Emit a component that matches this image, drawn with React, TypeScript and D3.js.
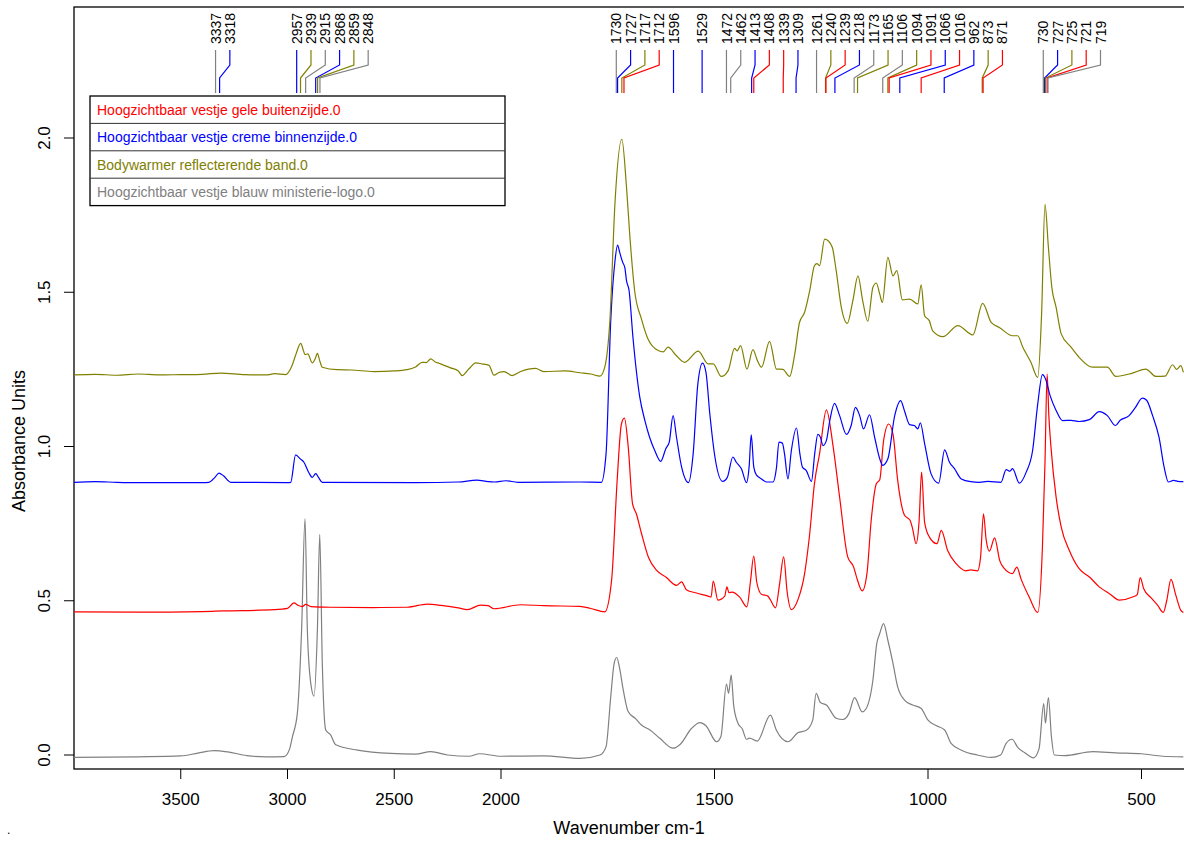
import React, { useRef, useEffect } from "react";
import * as d3 from "d3";

// spectra as [wavenumber, absorbance]
const redSpectrum: [number, number][] = [
  [4000, 0.464], [3700, 0.463], [3400, 0.465], [3300, 0.467], [3063, 0.471], [3000, 0.475],
  [2970, 0.493], [2950, 0.485], [2931, 0.481], [2915, 0.488], [2890, 0.481], [2800, 0.479],
  [2600, 0.478], [2440, 0.479], [2345, 0.489], [2280, 0.485], [2200, 0.477], [2158, 0.471],
  [2095, 0.486], [2060, 0.484], [2033, 0.474], [1954, 0.487], [1900, 0.484], [1815, 0.482],
  [1790, 0.475], [1757, 0.464], [1741, 0.566], [1728, 0.89], [1718, 1.073], [1711, 1.092],
  [1702, 0.998], [1692, 0.815], [1683, 0.782], [1671, 0.718], [1655, 0.642], [1636, 0.599],
  [1614, 0.577], [1589, 0.55], [1577, 0.561], [1566, 0.536], [1542, 0.525], [1515, 0.515],
  [1508, 0.512], [1503, 0.564], [1492, 0.502], [1476, 0.515], [1471, 0.545], [1466, 0.526],
  [1459, 0.528], [1441, 0.512], [1424, 0.48], [1416, 0.56], [1408, 0.645], [1401, 0.56],
  [1390, 0.521], [1375, 0.515], [1370, 0.505], [1357, 0.477], [1348, 0.55], [1338, 0.642],
  [1330, 0.53], [1320, 0.471], [1305, 0.502], [1289, 0.588], [1277, 0.718], [1266, 0.879],
  [1254, 0.976], [1238, 1.119], [1222, 0.998], [1207, 0.836], [1188, 0.642], [1174, 0.609],
  [1168, 0.58], [1154, 0.532], [1143, 0.588], [1133, 0.761], [1121, 0.879], [1113, 0.892],
  [1104, 1.019], [1092, 1.073], [1082, 1.04], [1071, 0.89], [1055, 0.777], [1042, 0.761],
  [1036, 0.733], [1028, 0.685], [1021, 0.755], [1015, 0.917], [1008, 0.755], [997, 0.707],
  [979, 0.685], [969, 0.728], [954, 0.663], [934, 0.62], [912, 0.597], [900, 0.6],
  [884, 0.597], [877, 0.64], [870, 0.782], [864, 0.7], [856, 0.661], [844, 0.704],
  [832, 0.63], [821, 0.604], [802, 0.588], [792, 0.609], [782, 0.57], [763, 0.512],
  [743, 0.462], [732, 0.674], [726, 0.95], [721, 1.235], [717, 1.1], [712, 0.998],
  [700, 0.836], [688, 0.739], [669, 0.663], [646, 0.604], [622, 0.577], [599, 0.545],
  [575, 0.523], [552, 0.502], [521, 0.512], [510, 0.52], [503, 0.575], [495, 0.54],
  [478, 0.51], [462, 0.485], [449, 0.462], [441, 0.5], [431, 0.569], [420, 0.52],
  [408, 0.469], [402, 0.462],
];

const blueSpectrum: [number, number][] = [
  [4000, 0.884], [3900, 0.886], [3800, 0.884], [3700, 0.883], [3400, 0.883], [3368, 0.884],
  [3340, 0.9], [3321, 0.914], [3300, 0.905], [3266, 0.884], [3000, 0.883], [2985, 0.884],
  [2962, 0.973], [2940, 0.96], [2923, 0.949], [2900, 0.915], [2884, 0.9], [2868, 0.912],
  [2855, 0.9], [2837, 0.884], [2400, 0.883], [2200, 0.885], [2113, 0.891], [2060, 0.886],
  [2030, 0.885], [1989, 0.889], [1960, 0.884], [1815, 0.885], [1765, 0.884], [1754, 0.976],
  [1743, 1.408], [1733, 1.602], [1727, 1.653], [1722, 1.629], [1715, 1.597], [1710, 1.58],
  [1706, 1.537], [1700, 1.505], [1691, 1.354], [1675, 1.16], [1663, 1.084], [1652, 1.03],
  [1640, 0.987], [1626, 0.952], [1614, 0.993], [1606, 1.014], [1597, 1.1], [1589, 1.03],
  [1577, 0.933], [1561, 0.883], [1550, 0.976], [1539, 1.203], [1528, 1.27], [1520, 1.24],
  [1511, 1.106], [1499, 0.966], [1481, 0.887], [1470, 0.9], [1457, 0.966], [1449, 0.949],
  [1437, 0.928], [1425, 0.883], [1419, 0.933], [1414, 1.038], [1408, 0.933], [1402, 0.908],
  [1390, 0.895], [1378, 0.885], [1363, 0.885], [1355, 0.93], [1349, 1.014], [1341, 1.011],
  [1336, 0.976], [1328, 0.895], [1320, 0.987], [1308, 1.06], [1300, 0.976], [1294, 0.933],
  [1285, 0.922], [1273, 0.887], [1265, 0.98], [1258, 1.039], [1252, 1.03], [1246, 1.003],
  [1238, 1.019], [1230, 1.084], [1219, 1.14], [1207, 1.1], [1191, 1.039], [1180, 1.068],
  [1170, 1.127], [1160, 1.1], [1151, 1.057], [1137, 1.103], [1125, 1.03], [1113, 0.96],
  [1106, 0.939], [1094, 0.96], [1078, 1.1], [1064, 1.149], [1055, 1.115], [1043, 1.071],
  [1032, 1.068], [1024, 1.057], [1018, 1.077], [1008, 1.01], [993, 0.912], [975, 0.881],
  [961, 0.989], [950, 0.95], [938, 0.928], [922, 0.895], [900, 0.886], [880, 0.884],
  [860, 0.887], [829, 0.884], [817, 0.925], [808, 0.92], [802, 0.928], [786, 0.881],
  [770, 0.917], [755, 0.987], [743, 1.138], [732, 1.233], [725, 1.22], [714, 1.165],
  [700, 1.117], [685, 1.084], [665, 1.085], [646, 1.081], [622, 1.087], [599, 1.113],
  [580, 1.1], [561, 1.068], [550, 1.085], [529, 1.1], [515, 1.125], [498, 1.157],
  [488, 1.15], [474, 1.1], [459, 1.03], [447, 0.933], [437, 0.885], [425, 0.89],
  [415, 0.887], [402, 0.886],
];

const oliveSpectrum: [number, number][] = [
  [4000, 1.232], [3900, 1.234], [3800, 1.231], [3700, 1.235], [3600, 1.232], [3500, 1.233],
  [3400, 1.234], [3313, 1.238], [3200, 1.233], [3100, 1.232], [3060, 1.236], [3009, 1.233],
  [2980, 1.26], [2960, 1.3], [2938, 1.334], [2925, 1.31], [2918, 1.298], [2905, 1.3],
  [2884, 1.271], [2870, 1.285], [2860, 1.302], [2850, 1.28], [2837, 1.257], [2767, 1.249],
  [2700, 1.248], [2595, 1.243], [2500, 1.245], [2440, 1.249], [2400, 1.258], [2369, 1.273],
  [2350, 1.272], [2329, 1.284], [2310, 1.275], [2283, 1.268], [2236, 1.255], [2200, 1.245],
  [2182, 1.23], [2150, 1.252], [2118, 1.271], [2090, 1.268], [2056, 1.263], [2033, 1.231],
  [2010, 1.24], [1993, 1.243], [1974, 1.23], [1954, 1.243], [1919, 1.253], [1900, 1.243],
  [1850, 1.245], [1815, 1.239], [1790, 1.235], [1768, 1.228], [1757, 1.257], [1745, 1.408],
  [1733, 1.791], [1717, 1.996], [1706, 1.839], [1698, 1.677], [1687, 1.505], [1671, 1.413],
  [1656, 1.349], [1632, 1.311], [1620, 1.307], [1609, 1.322], [1589, 1.294], [1570, 1.273],
  [1538, 1.309], [1515, 1.268], [1503, 1.268], [1484, 1.227], [1468, 1.246], [1453, 1.318],
  [1447, 1.31], [1439, 1.327], [1424, 1.251], [1410, 1.314], [1400, 1.28], [1390, 1.257],
  [1371, 1.341], [1355, 1.251], [1340, 1.25], [1324, 1.227], [1312, 1.3], [1301, 1.402],
  [1289, 1.435], [1277, 1.505], [1266, 1.586], [1260, 1.593], [1254, 1.586], [1242, 1.672],
  [1234, 1.667], [1224, 1.645], [1215, 1.57], [1203, 1.451], [1189, 1.399], [1176, 1.473],
  [1164, 1.553], [1153, 1.473], [1141, 1.406], [1129, 1.516], [1121, 1.53], [1113, 1.494],
  [1107, 1.467], [1094, 1.613], [1082, 1.553], [1073, 1.57], [1060, 1.475], [1043, 1.478],
  [1024, 1.462], [1016, 1.524], [1008, 1.424], [997, 1.408], [989, 1.375], [965, 1.356],
  [930, 1.392], [895, 1.362], [872, 1.464], [852, 1.402], [833, 1.386], [802, 1.359],
  [790, 1.359], [778, 1.322], [759, 1.273], [743, 1.224], [734, 1.429], [726, 1.785],
  [718, 1.645], [710, 1.516], [700, 1.451], [688, 1.365], [665, 1.322], [646, 1.289],
  [615, 1.257], [580, 1.257], [560, 1.227], [521, 1.238], [490, 1.251], [466, 1.227],
  [445, 1.228], [427, 1.265], [418, 1.25], [408, 1.262], [402, 1.24],
];

const graySpectrum: [number, number][] = [
  [4000, -0.008], [3700, -0.006], [3500, -0.003], [3420, 0.006], [3344, 0.014], [3280, 0.01],
  [3190, -0.002], [3100, -0.006], [3016, -0.005], [2990, 0.02], [2977, 0.059], [2954, 0.135],
  [2934, 0.405], [2918, 0.766], [2907, 0.405], [2891, 0.232], [2876, 0.191], [2860, 0.405],
  [2849, 0.715], [2837, 0.297], [2821, 0.081], [2798, 0.065], [2774, 0.033], [2673, 0.016],
  [2517, 0.005], [2400, 0.003], [2329, 0.011], [2250, 0.0], [2150, -0.004], [2100, 0.004],
  [2000, -0.004], [1900, -0.003], [1815, -0.011], [1768, 0.0], [1754, 0.027], [1743, 0.189],
  [1735, 0.297], [1729, 0.316], [1722, 0.28], [1715, 0.221], [1702, 0.14], [1685, 0.118],
  [1671, 0.097], [1651, 0.081], [1628, 0.054], [1597, 0.022], [1580, 0.035], [1554, 0.086],
  [1534, 0.105], [1520, 0.095], [1495, 0.043], [1485, 0.06], [1472, 0.23], [1467, 0.2],
  [1461, 0.259], [1455, 0.16], [1445, 0.103], [1435, 0.085], [1425, 0.051], [1418, 0.055],
  [1400, 0.045], [1369, 0.129], [1355, 0.08], [1328, 0.043], [1305, 0.072], [1285, 0.08],
  [1270, 0.113], [1262, 0.2], [1252, 0.17], [1238, 0.162], [1215, 0.119], [1200, 0.115],
  [1185, 0.135], [1172, 0.186], [1154, 0.14], [1145, 0.15], [1129, 0.243], [1120, 0.361],
  [1113, 0.394], [1104, 0.426], [1094, 0.372], [1082, 0.297], [1071, 0.221], [1055, 0.178],
  [1036, 0.162], [1016, 0.151], [1000, 0.113], [980, 0.095], [961, 0.081], [946, 0.038],
  [919, 0.014], [885, 0.0], [852, -0.008], [830, 0.0], [817, 0.038], [803, 0.051],
  [790, 0.025], [774, 0.008], [753, -0.009], [740, 0.02], [729, 0.167], [725, 0.103],
  [718, 0.186], [711, 0.06], [704, 0.0], [680, -0.002], [614, 0.011], [560, 0.007],
  [500, 0.004], [450, -0.004], [402, -0.006],
];

const seriesNames = [
  "Hoogzichtbaar vestje gele buitenzijde.0",
  "Hoogzichtbaar vestje creme binnenzijde.0",
  "Bodywarmer reflecterende band.0",
  "Hoogzichtbaar vestje blauw ministerie-logo.0",
];
const seriesColors = ["#ff0000", "#0000ff", "#808000", "#808080"];
const seriesData = [redSpectrum, blueSpectrum, oliveSpectrum, graySpectrum];

// peak picks: wavenumber and which series (index into seriesColors)
const peakWavenumbers = [
  3337, 3318, 2957, 2939, 2915, 2868, 2859, 2848, 1730, 1727, 1717, 1712, 1596, 1529,
  1472, 1462, 1413, 1408, 1339, 1309, 1261, 1240, 1239, 1218, 1173, 1165, 1106, 1094,
  1091, 1066, 1016, 962, 873, 871, 730, 727, 725, 721, 719,
];
const peakSeries = [
  3, 1, 1, 2, 3, 1, 2, 3, 3, 1, 2, 0, 1, 1,
  3, 3, 1, 0, 0, 1, 3, 2, 0, 1, 3, 2, 3, 2,
  0, 1, 0, 1, 2, 0, 3, 1, 2, 0, 3,
];

const xTicks = [3500, 3000, 2500, 2000, 1500, 1000, 500];
const yTicks = [0, 0.5, 1.0, 1.5, 2.0];

const App = () => {
  const svgRef = useRef<SVGSVGElement>(null);

  useEffect(() => {
    const width = 1184;
    const height = 841;
    const left = 74;
    const top = 7;
    const bottom = 769;
    const font = "'Liberation Sans', Arial, sans-serif";

    const svg = d3.select(svgRef.current);
    svg.selectAll("*").remove();
    svg.attr("width", width).attr("height", height);

    // region above 2000 is compressed by half
    const x = d3.scaleLinear().domain([4000, 2000, 400]).range([left, 501, 1184.2]);
    const y = d3.scaleLinear().domain([0, 2]).range([755, 138]);

    svg
      .append("defs")
      .append("clipPath")
      .attr("id", "plotclip")
      .append("rect")
      .attr("x", left)
      .attr("y", top)
      .attr("width", width - left)
      .attr("height", bottom - top);

    // box (right side runs off the picture)
    svg
      .append("rect")
      .attr("x", left)
      .attr("y", top)
      .attr("width", 1300)
      .attr("height", bottom - top)
      .attr("fill", "none")
      .attr("stroke", "#000")
      .attr("stroke-width", 1.3);

    // axes, R style
    const xAxis = svg.append("g").attr("font-family", font).attr("font-size", 17);
    xTicks.forEach((t) => {
      xAxis
        .append("line")
        .attr("x1", x(t))
        .attr("x2", x(t))
        .attr("y1", bottom)
        .attr("y2", bottom + 10)
        .attr("stroke", "#000");
      xAxis
        .append("text")
        .attr("x", x(t))
        .attr("y", 805)
        .attr("text-anchor", "middle")
        .text(String(t));
    });
    xAxis
      .append("text")
      .attr("x", 629)
      .attr("y", 834)
      .attr("text-anchor", "middle")
      .attr("font-size", 18)
      .text("Wavenumber cm-1");

    const yAxis = svg.append("g").attr("font-family", font).attr("font-size", 17);
    yTicks.forEach((t) => {
      yAxis
        .append("line")
        .attr("x1", left - 10)
        .attr("x2", left)
        .attr("y1", y(t))
        .attr("y2", y(t))
        .attr("stroke", "#000");
      yAxis
        .append("text")
        .attr("transform", `translate(50,${y(t)}) rotate(-90)`)
        .attr("text-anchor", "middle")
        .text(d3.format(".1f")(t));
    });
    yAxis
      .append("text")
      .attr("transform", `translate(25,441) rotate(-90)`)
      .attr("text-anchor", "middle")
      .attr("font-size", 18)
      .text("Absorbance Units");

    // spectra
    const line = d3
      .line<[number, number]>()
      .x((d) => x(d[0]))
      .y((d) => y(d[1]))
      .curve(d3.curveMonotoneX);

    const plot = svg.append("g").attr("clip-path", "url(#plotclip)");
    [3, 0, 1, 2].forEach((i) => {
      plot
        .append("path")
        .datum(seriesData[i])
        .attr("d", line)
        .attr("fill", "none")
        .attr("stroke", seriesColors[i])
        .attr("stroke-width", 1.2)
        .attr("stroke-linejoin", "round");
    });

    // peak labels, pushed right so they don't overlap
    const gap = 14.3;
    let prev = -Infinity;
    const labelX = peakWavenumbers.map((w) => {
      const pos = Math.max(x(w), prev + gap);
      prev = pos;
      return pos;
    });
    const peaks = svg.append("g");
    peakWavenumbers.forEach((w, i) => {
      const px = x(w);
      const lx = labelX[i];
      peaks
        .append("path")
        .attr("d", `M${lx},50 L${lx},65 L${px},78 L${px},93`)
        .attr("fill", "none")
        .attr("stroke", seriesColors[peakSeries[i]])
        .attr("stroke-width", 1.2);
      peaks
        .append("text")
        .attr("transform", `translate(${lx},44) rotate(-90)`)
        .attr("dy", "0.36em")
        .attr("font-family", font)
        .attr("font-size", 14)
        .attr("fill", "#000")
        .text(String(w));
    });

    // legend
    const lg = svg.append("g").attr("font-family", font).attr("font-size", 14);
    const lx0 = 90;
    const lx1 = 505;
    const ly0 = 96;
    const rowH = 27.4;
    lg.append("rect")
      .attr("x", lx0)
      .attr("y", ly0)
      .attr("width", lx1 - lx0)
      .attr("height", rowH * seriesNames.length)
      .attr("fill", "#fff")
      .attr("stroke", "#000")
      .attr("stroke-width", 1.3);
    seriesNames.forEach((name, i) => {
      if (i > 0) {
        lg.append("line")
          .attr("x1", lx0)
          .attr("x2", lx1)
          .attr("y1", ly0 + i * rowH)
          .attr("y2", ly0 + i * rowH)
          .attr("stroke", "#333");
      }
      lg.append("text")
        .attr("x", 97)
        .attr("y", ly0 + i * rowH + 19)
        .attr("fill", seriesColors[i])
        .text(name);
    });

    svg
      .append("text")
      .attr("x", 7)
      .attr("y", 834)
      .attr("font-family", font)
      .attr("font-size", 12)
      .text(".");
  }, []);

  return <svg ref={svgRef} style={{ position: "absolute", left: 0, top: 0 }}></svg>;
};

export default App;
